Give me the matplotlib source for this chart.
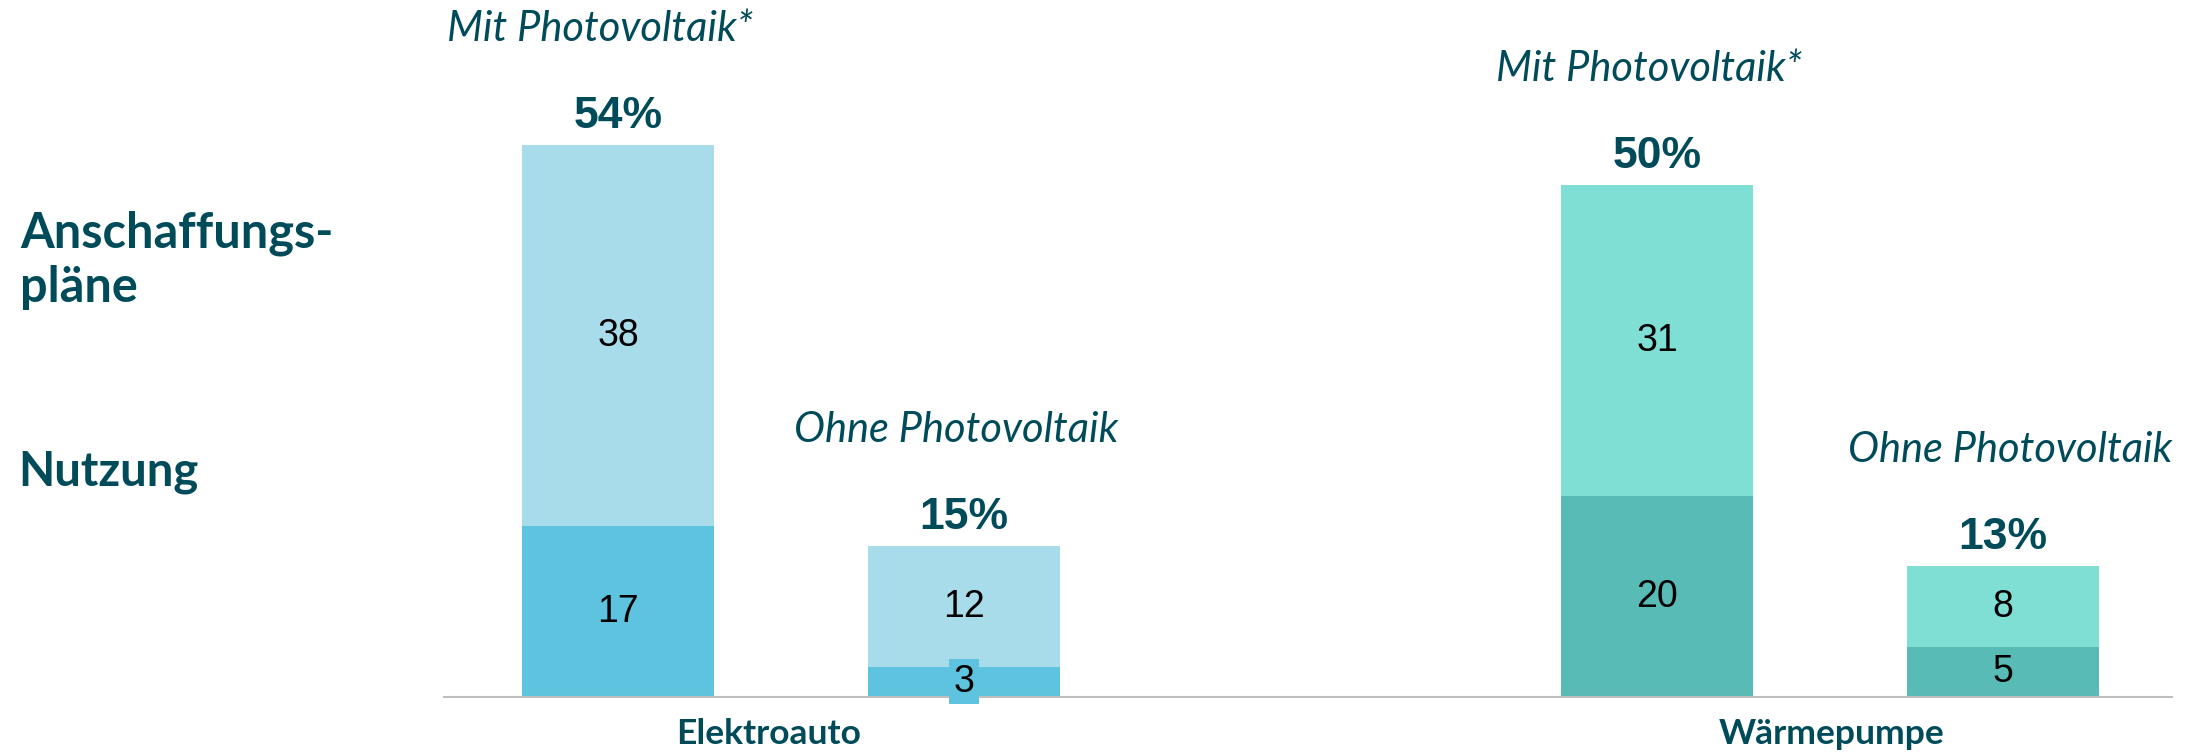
import matplotlib.pyplot as plt
import numpy as np

# Data
groups = ['Elektroauto', 'Wärmepumpe']
pv_labels = ['Mit Photovoltaik*', 'Ohne Photovoltaik']
nutzung = [17, 3, 20, 5]          # bottom segment
plaene = [38, 12, 31, 8]          # top segment
totals = ['54%', '15%', '50%', '13%']

dark_cols = ['#5EC3DE', '#5EC3DE', '#59BBB5', '#59BBB5']
light_cols = ['#A8DCEA', '#A8DCEA', '#7FDFD5', '#7FDFD5']
txt_col = '#004B5A'

fig = plt.figure(figsize=(21.9, 7.54), dpi=100)
ax = fig.add_axes([444 / 2190, 57 / 754, 1728 / 2190, 614.4 / 754])

group_x = np.array([3.47, 13.86])
offset = 1.73
xpos = np.array([group_x[0] - offset, group_x[0] + offset,
                 group_x[1] - offset, group_x[1] + offset])
width = 1.92

ax.bar(xpos, nutzung, width=width, color=dark_cols, zorder=2)
ax.bar(xpos, plaene, width=width, bottom=nutzung, color=light_cols, zorder=2)

# small horizontal nudges for the italic headers
nudge = [-18, -8, -8, 7]

for i, x in enumerate(xpos):
    n, p = nutzung[i], plaene[i]
    # segment values
    if n < 4:
        ax.text(x, n / 2, str(n), ha='center', va='center', fontsize=27,
                family='Liberation Sans', color='black', zorder=4,
                bbox=dict(boxstyle='square,pad=0.12', fc=dark_cols[i], ec='none'))
    else:
        ax.text(x, n / 2, str(n), ha='center', va='center', fontsize=27,
                family='Liberation Sans', color='black', zorder=4)
    ax.text(x, n + p / 2, str(p), ha='center', va='center', fontsize=27,
            family='Liberation Sans', color='black', zorder=4)
    # total on top
    ax.annotate(totals[i], (x, n + p), xytext=(0, 17), textcoords='offset pixels',
                ha='center', va='baseline', fontsize=32, fontweight='bold',
                family='Liberation Sans', color=txt_col, annotation_clip=False)
    # pv label
    ax.annotate(pv_labels[i % 2], (x, n + p), xytext=(nudge[i], 104), textcoords='offset pixels',
                ha='center', va='baseline', fontsize=30, style='italic',
                family='Lato', color=txt_col, annotation_clip=False)

ax.set_xlim(0, 17.28)
ax.set_ylim(0, 61.2)
for s in ['top', 'right', 'left']:
    ax.spines[s].set_visible(False)
ax.spines['bottom'].set_color('#BFBFBF')
ax.spines['bottom'].set_linewidth(1.5)
ax.set_yticks([])
ax.set_xticks([])

# group labels below the axis
for gx, g in zip([3.25, 13.88], groups):
    ax.annotate(g, (gx, 0), xytext=(0, -47), textcoords='offset pixels',
                ha='center', va='baseline', fontsize=25.5, fontweight='bold',
                family='Lato', color=txt_col, annotation_clip=False)

# row labels on the left
fig.text(20 / 2190, 1 - 247 / 754, 'Anschaffungs-', fontsize=35, fontweight='bold',
         family='Lato', color=txt_col, va='baseline', ha='left')
fig.text(20 / 2190, 1 - 302 / 754, 'pläne', fontsize=35, fontweight='bold',
         family='Lato', color=txt_col, va='baseline', ha='left')
fig.text(18 / 2190, 1 - 485 / 754, 'Nutzung', fontsize=34, fontweight='bold',
         family='Lato', color=txt_col, va='baseline', ha='left')

fig.savefig('out.png', dpi=100)
